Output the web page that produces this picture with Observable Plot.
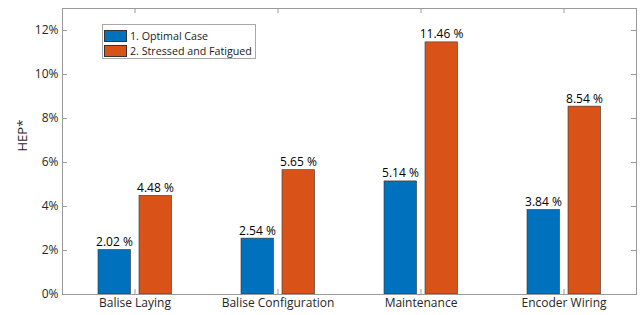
<!DOCTYPE html>
<html><head><meta charset="utf-8">
<script src="https://cdn.jsdelivr.net/npm/d3@7"></script>
<script src="https://cdn.jsdelivr.net/npm/@observablehq/plot@0.6"></script>
<style>
body{margin:0;background:#fff;font-family:"Open Sans",sans-serif;}
#wrap{position:relative;width:643px;height:315px;}
#legend{position:absolute;left:102px;top:24px;width:154px;height:35px;border:1px solid #a8a8a8;background:#fff;font-size:10.7px;color:#1a1a1a;box-sizing:border-box;padding-top:3px;white-space:nowrap;}
.row{display:flex;align-items:center;height:15.5px;white-space:nowrap;}
.sw{flex:none;width:23px;height:12px;margin-left:1px;margin-right:3px;box-sizing:border-box;border:0.5px solid #333;}
</style></head>
<body><div id="wrap"><div id="legend"></div></div>
<script>
const categories = ["Balise Laying", "Balise Configuration", "Maintenance", "Encoder Wiring"];
const seriesNames = ["1. Optimal Case", "2. Stressed and Fatigued"];
const optimalValues = [2.02, 2.54, 5.14, 3.84];
const stressedValues = [4.48, 5.65, 11.46, 8.54];
const seriesColors = ["#0072BD", "#D95319"];
const yTicks = [0, 2, 4, 6, 8, 10, 12];
const yLabel = "HEP*";

const optRows = categories.map((c, i) => ({category: c, value: optimalValues[i]}));
const strRows = categories.map((c, i) => ({category: c, value: stressedValues[i]}));

const W = 643, H = 315, mL = 62, mR = 7, mT = 8, mB = 21;
const band = (W - mL - mR) / categories.length;
const plotH = H - mT - mB, plotW = W - mL - mR;
const axisColor = "#9a9a9a";
const fmt = v => v.toFixed(2) + " %";

const chart = Plot.plot({
  width: W, height: H,
  marginLeft: mL, marginRight: mR, marginTop: mT, marginBottom: mB,
  style: {fontFamily: "Open Sans, sans-serif", fontSize: "12px", color: "#262626", background: "#fff"},
  x: {type: "band", domain: categories, padding: 0},
  y: {domain: [0, 13]},
  marks: [
    Plot.barY(optRows, {x: "category", y: "value", fill: seriesColors[0], stroke: "#333", strokeWidth: 0.6, insetLeft: 35, insetRight: band - 68}),
    Plot.barY(strRows, {x: "category", y: "value", fill: seriesColors[1], stroke: "#333", strokeWidth: 0.6, insetLeft: 76, insetRight: band - 109}),
    Plot.text(optRows, {x: "category", y: "value", text: d => fmt(d.value), dx: -20.5, dy: -4, lineAnchor: "bottom", fontSize: 12, fill: "#000"}),
    Plot.text(strRows, {x: "category", y: "value", text: d => fmt(d.value), dx: 20.5, dy: -4, lineAnchor: "bottom", fontSize: 12, fill: "#000"}),
    Plot.frame({stroke: axisColor}),
    Plot.axisY({ticks: yTicks, tickFormat: d => d + "%", tickSize: 0, tickPadding: 4, label: null, fontSize: 12, fill: "#262626"}),
    Plot.tickY(yTicks, {y: d => d, stroke: axisColor, insetRight: plotW - 5}),
    Plot.tickY(yTicks, {y: d => d, stroke: axisColor, insetLeft: plotW - 5}),
    Plot.axisX({tickSize: 0, tickPadding: 4, label: null, fontSize: 12, fill: "#262626"}),
    Plot.gridX({stroke: axisColor, strokeOpacity: 1, insetTop: plotH - 5}),
    Plot.gridX({stroke: axisColor, strokeOpacity: 1, insetBottom: plotH - 5}),
    Plot.text([yLabel], {frameAnchor: "left", text: d => d, rotate: -90, dx: -40, fontSize: 13, fill: "#262626"})
  ]
});
document.getElementById("wrap").prepend(chart);

const legend = document.getElementById("legend");
seriesNames.forEach((name, i) => {
  const row = document.createElement("div");
  row.className = "row";
  const sw = document.createElement("div");
  sw.className = "sw";
  sw.style.background = seriesColors[i];
  const t = document.createElement("span");
  t.textContent = name;
  row.append(sw, t);
  legend.append(row);
});
</script>
</body></html>
